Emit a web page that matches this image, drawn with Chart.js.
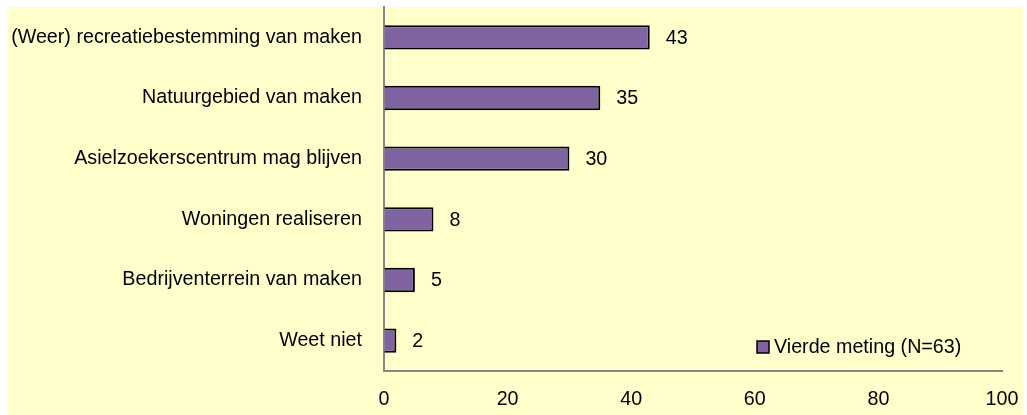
<!DOCTYPE html>
<html>
<head>
<meta charset="utf-8">
<script src="https://cdn.jsdelivr.net/npm/chart.js@4/dist/chart.umd.min.js"></script>
<style>
  html, body { margin: 0; padding: 0; background: #ffffff; }
  #wrap { position: relative; width: 1027px; height: 415px; }
  canvas { display: block; }
</style>
</head>
<body>
<div id="wrap"><canvas id="c" width="1027" height="415"></canvas></div>
<script>
const categories = [
  "(Weer) recreatiebestemming van maken",
  "Natuurgebied van maken",
  "Asielzoekerscentrum mag blijven",
  "Woningen realiseren",
  "Bedrijventerrein van maken",
  "Weet niet"
];
const values = [43, 35, 30, 8, 5, 2];
const seriesLabel = "Vierde meting (N=63)";
const xTicks = [0, 20, 40, 60, 80, 100];

const FONT = "'Liberation Sans', Arial, sans-serif";
const FSIZE = 19.7;
const BAR_COLOR = '#8064A2';
const BAR_BORDER = '#000000';
const AXIS_COLOR = '#868686';

const bgPlugin = {
  id: 'bg',
  beforeDraw(chart) {
    const ctx = chart.ctx;
    ctx.save();
    ctx.fillStyle = '#FFFFCC';
    ctx.fillRect(8, 7, 1015, 408);
    ctx.restore();
  }
};

const labelPlugin = {
  id: 'vals',
  afterDatasetsDraw(chart) {
    const ctx = chart.ctx;
    const meta = chart.getDatasetMeta(0);
    ctx.save();
    ctx.font = FSIZE + 'px ' + FONT;
    ctx.fillStyle = '#000';
    ctx.textAlign = 'left';
    ctx.textBaseline = 'middle';
    meta.data.forEach((bar, i) => {
      ctx.fillText(String(chart.data.datasets[0].data[i]), bar.x + 16, bar.y + 1);
    });
    ctx.restore();
  }
};

const legendPlugin = {
  id: 'customLegend',
  afterDraw(chart) {
    const ctx = chart.ctx;
    const ds = chart.data.datasets[0];
    const x = 757, y = 341, s = 12;
    ctx.save();
    ctx.fillStyle = ds.backgroundColor;
    ctx.fillRect(x, y, s, s);
    ctx.strokeStyle = '#000';
    ctx.lineWidth = 1.5;
    ctx.strokeRect(x, y, s, s);
    ctx.font = FSIZE + 'px ' + FONT;
    ctx.fillStyle = '#000';
    ctx.textAlign = 'left';
    ctx.textBaseline = 'middle';
    ctx.fillText(ds.label, x + s + 5, y + s / 2 + 1);
    ctx.restore();
  }
};

new Chart(document.getElementById('c'), {
  type: 'bar',
  data: {
    labels: categories,
    datasets: [{
      label: seriesLabel,
      data: values,
      backgroundColor: BAR_COLOR,
      borderColor: BAR_BORDER,
      borderWidth: 2,
      borderSkipped: 'start',
      barPercentage: 0.4,
      categoryPercentage: 1.0
    }]
  },
  options: {
    indexAxis: 'y',
    responsive: false,
    animation: false,
    devicePixelRatio: 1,
    layout: { padding: { top: 7, right: 25, left: 0, bottom: 0 } },
    plugins: {
      legend: { display: false },
      tooltip: { enabled: false }
    },
    scales: {
      x: {
        type: 'linear',
        min: 0,
        max: 100,
        afterBuildTicks(scale) { scale.ticks = xTicks.map(v => ({ value: v })); },
        afterFit(scale) {
          scale.height = 44;
          scale.paddingLeft = 0;
          scale.paddingRight = 0;
        },
        grid: { display: true, color: 'rgba(0,0,0,0)', drawTicks: true, tickLength: 17, tickColor: 'rgba(0,0,0,0)' },
        border: { display: true, color: AXIS_COLOR, width: 2 },
        ticks: { color: '#000', padding: 0, font: { family: FONT, size: FSIZE } }
      },
      y: {
        type: 'category',
        afterFit(scale) {
          scale.width = 384;
          scale.paddingTop = 0;
          scale.paddingBottom = 0;
        },
        grid: { display: true, color: 'rgba(0,0,0,0)', drawTicks: true, tickLength: 22, tickColor: 'rgba(0,0,0,0)' },
        border: { display: true, color: AXIS_COLOR, width: 2 },
        ticks: { color: '#000', padding: 0, font: { family: FONT, size: FSIZE } }
      }
    }
  },
  plugins: [bgPlugin, labelPlugin, legendPlugin]
});
</script>
</body>
</html>
